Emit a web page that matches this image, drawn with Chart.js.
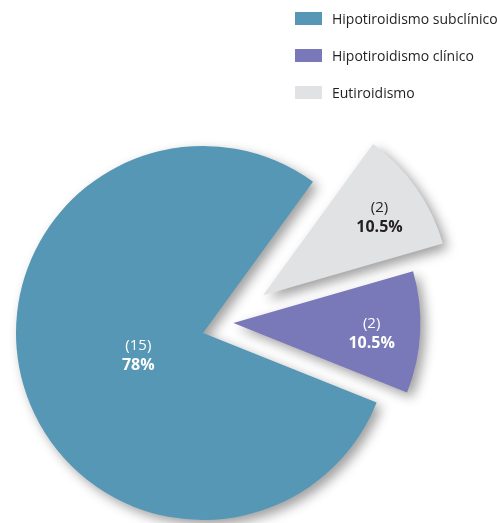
<!DOCTYPE html>
<html>
<head>
<meta charset="utf-8">
<title>Función tiroidea</title>
<script src="https://cdn.jsdelivr.net/npm/chart.js@4.4.1/dist/chart.umd.min.js"></script>
<style>
    html, body { margin: 0; padding: 0; background: #fff; overflow: hidden; }
    #wrap { position: relative; width: 497px; height: 523px; }
    #legend {
        position: absolute; left: 295px; top: 12px; margin: 0; padding: 0; list-style: none;
        font-family: 'Open Sans', sans-serif; font-size: 14px; color: #231f20;
    }
    #legend li { display: flex; align-items: center; height: 13px; margin-bottom: 24px; white-space: nowrap; }
    #legend .box { display: inline-block; width: 27px; height: 13px; margin-right: 10px; }
</style>
</head>
<body>
<div id="wrap">
    <canvas id="pieChart" width="497" height="523"></canvas>
    <ul id="legend"></ul>
</div>
<script>
// Slices in clockwise order starting at the top-right
const categories = ['Eutiroidismo', 'Hipotiroidismo clínico', 'Hipotiroidismo subclínico'];
const patientCounts = [2, 2, 15];
const percentLabels = ['10.5%', '10.5%', '78%'];

const sliceColors = ['#e1e2e4', '#7978b9', '#5597b4'];
const labelColors = ['#231f20', '#ffffff', '#ffffff'];
const explodeDistance = [71, 32, 0];   // px pulled out of the pie
const explodeTilt = [3, -21, 0];       // degrees off the slice bisector
const labelRadius = [0.76, 0.74, 0.36]; // fraction of radius

// Pull slices out of the pie (own plugin so the radius stays the same)
const explodePlugin = {
    id: 'explode',
    afterDatasetUpdate(chart, args) {
        args.meta.data.forEach((arc, i) => {
            const mid = (arc.startAngle + arc.endAngle) / 2 + explodeTilt[i] * Math.PI / 180;
            arc.x += Math.cos(mid) * explodeDistance[i];
            arc.y += Math.sin(mid) * explodeDistance[i];
        });
    }
};

// Soft drop shadow under the slices
const shadowPlugin = {
    id: 'sliceShadow',
    beforeDatasetDraw(chart) {
        const ctx = chart.ctx;
        ctx.save();
        ctx.shadowColor = 'rgba(0, 0, 0, 0.38)';
        ctx.shadowBlur = 12;
        ctx.shadowOffsetX = 5;
        ctx.shadowOffsetY = 5;
    },
    afterDatasetDraw(chart) {
        chart.ctx.restore();
    }
};

// Count and percentage inside each slice
const sliceLabelPlugin = {
    id: 'sliceLabels',
    afterDatasetsDraw(chart) {
        const ctx = chart.ctx;
        const meta = chart.getDatasetMeta(0);
        meta.data.forEach((arc, i) => {
            const mid = (arc.startAngle + arc.endAngle) / 2;
            const r = arc.outerRadius * labelRadius[i];
            const x = arc.x + Math.cos(mid) * r;
            const y = arc.y + Math.sin(mid) * r;
            ctx.save();
            ctx.fillStyle = labelColors[i];
            ctx.textAlign = 'center';
            ctx.textBaseline = 'middle';
            ctx.font = '15px "Open Sans", sans-serif';
            ctx.fillText('(' + patientCounts[i] + ')', x, y - 6);
            ctx.font = 'bold 16px "Open Sans", sans-serif';
            ctx.fillText(percentLabels[i], x, y + 14);
            ctx.restore();
        });
    }
};

// HTML legend, listed from the largest slice down
const htmlLegendPlugin = {
    id: 'htmlLegend',
    afterUpdate(chart) {
        const ul = document.getElementById('legend');
        ul.innerHTML = '';
        chart.legend.legendItems.slice().reverse().forEach(item => {
            const li = document.createElement('li');
            const box = document.createElement('span');
            box.className = 'box';
            box.style.background = item.fillStyle;
            li.appendChild(box);
            li.appendChild(document.createTextNode(item.text));
            ul.appendChild(li);
        });
    }
};

const ctx = document.getElementById('pieChart').getContext('2d');
new Chart(ctx, {
    type: 'pie',
    data: {
        labels: categories,
        datasets: [{
            data: patientCounts,
            backgroundColor: sliceColors,
            borderWidth: 0,
            clip: false
        }]
    },
    options: {
        responsive: false,
        animation: false,
        rotation: 36,
        radius: 187,
        layout: {
            padding: { left: 0, right: 91, top: 143, bottom: 0 }
        },
        plugins: {
            legend: { display: false },
            tooltip: { enabled: false }
        }
    },
    plugins: [explodePlugin, shadowPlugin, sliceLabelPlugin, htmlLegendPlugin]
});
</script>
</body>
</html>
